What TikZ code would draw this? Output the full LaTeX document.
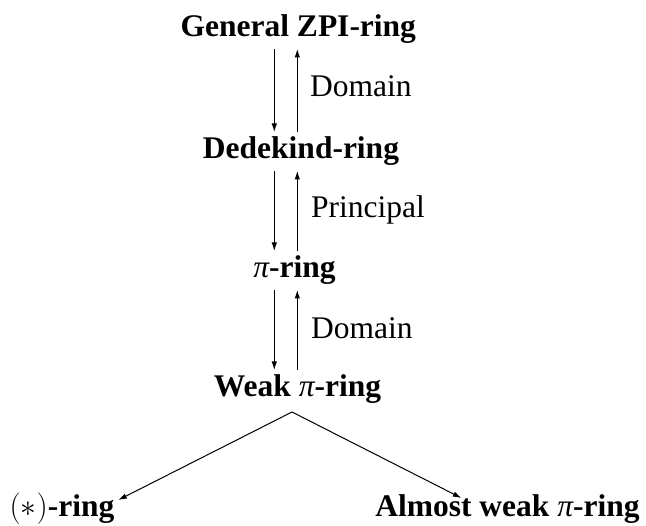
\documentclass[tikz,border=0pt]{standalone}
\usepackage{fix-cm}
\usepackage{fontspec}
\setmainfont{Liberation Serif}
\usetikzlibrary{arrows.meta}
\newcommand{\gpi}{{\mdseries\itshape π}}
\begin{document}
\begin{tikzpicture}[x=1pt,y=1pt,
  ring/.style={font=\fontsize{31.5}{36}\selectfont\bfseries, anchor=base,
    text height=22pt, text depth=7pt, inner ysep=5pt, inner xsep=3pt, outer sep=0pt},
  lbl/.style={font=\fontsize{31.5}{36}\selectfont, anchor=base west, inner sep=0pt},
  arr/.style={line width=1pt, -{Latex[length=8.5pt,width=5.5pt]}}]
  \useasboundingbox (0,0) rectangle (646,-526);

  % columns for the paired arrows
  \coordinate (colL) at (274.3,0);
  \coordinate (colR) at (297.3,0);

  % rings
  \node[ring] (gz)   at (298.3,-37)  {General ZPI-ring};
  \node[ring] (dd)   at (301,-159)   {Dedekind-ring};
  \node[ring] (pi)   at (294.5,-278) {\gpi-ring};
  \node[ring] (wk)   at (297.5,-397) {Weak \gpi-ring};
  \node[ring] (star) at (62,-517)    {$(\ast)$-ring};
  \node[ring] (alm)  at (507.5,-517) {Almost weak \gpi-ring};

  % labels of the upward arrows
  \node[lbl] (l1) at (310,-97)  {Domain};
  \node[lbl] (l2) at (311,-218) {Principal};
  \node[lbl] (l3) at (311,-339) {Domain};

  % general ZPI-ring <-> Dedekind-ring
  \draw[arr] (gz.south -| colL) -- (dd.north -| colL);
  \draw[arr] (dd.north -| colR) -- (gz.south -| colR);
  % Dedekind-ring <-> pi-ring
  \draw[arr] (dd.south -| colL) -- (pi.north -| colL);
  \draw[arr] (pi.north -| colR) -- (dd.south -| colR);
  % pi-ring <-> weak pi-ring
  \draw[arr] (pi.south -| colL) -- (wk.north -| colL);
  \draw[arr] (wk.north -| colR) -- (pi.south -| colR);

  % weak pi-ring splits into two branches
  \coordinate (apex) at ([shift={(-5.5pt,-3pt)}]wk.south);
  \draw[arr] (apex) -- ([shift={(1pt,-10pt)}]star.north east);
  \draw[arr] (apex) -- ([shift={(89pt,-8pt)}]alm.north west);
\end{tikzpicture}
\end{document}
